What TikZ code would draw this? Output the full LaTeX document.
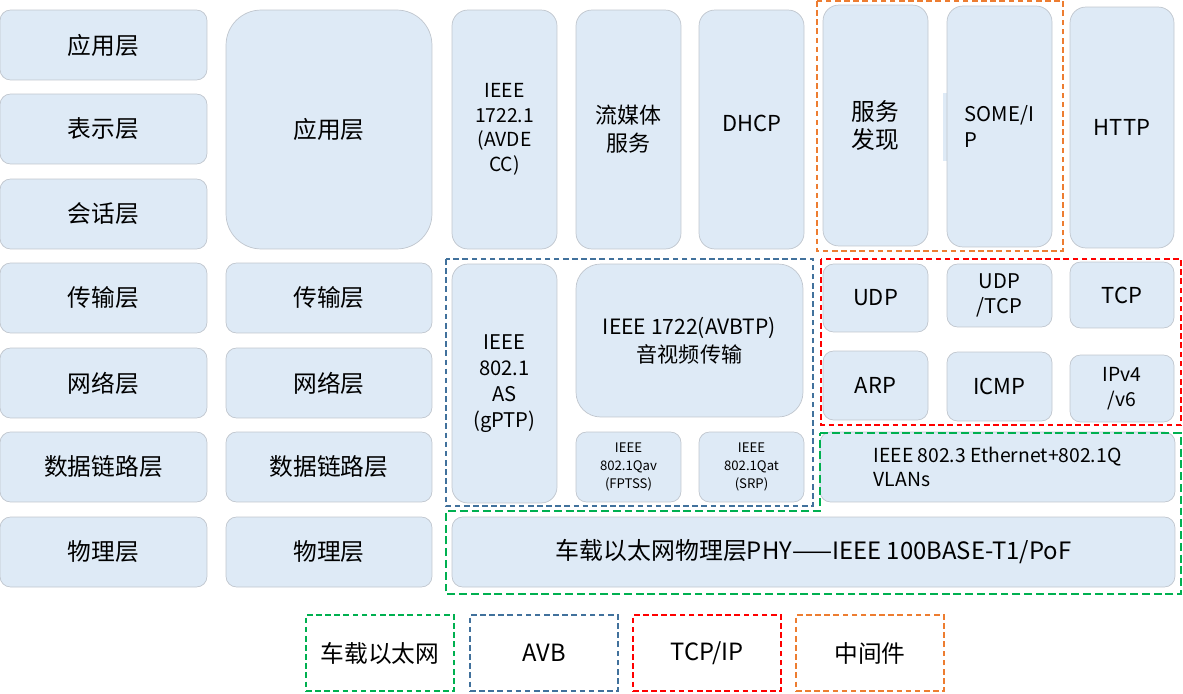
\documentclass[tikz,border=0pt]{standalone}
\usepackage{fontspec}
\setmainfont{Noto Sans CJK SC}
\definecolor{boxblue}{RGB}{222,234,246}
\definecolor{boxline}{RGB}{192,198,206}
\definecolor{avbblue}{RGB}{65,113,156}
\definecolor{ethgreen}{RGB}{0,176,80}
\definecolor{tcpred}{RGB}{255,0,0}
\definecolor{midorange}{RGB}{237,125,49}
\tikzset{
  layer/.style={draw=boxline, fill=boxblue, rounded corners=6pt, align=center, inner sep=0pt,
    minimum width=4.14cm, minimum height=1.4cm, font=\fontsize{13.5}{17}\selectfont},
  proto/.style={layer, minimum width=2.1cm, rounded corners=9pt, font=\fontsize{12.5}{16}\selectfont},
  smallproto/.style={proto, rounded corners=6pt, font=\fontsize{7.5}{10}\selectfont},
  frame/.style={draw=#1, line width=1.1pt, dash pattern=on 3.2pt off 2pt},
  legendbox/.style={frame=#1, minimum width=2.96cm, minimum height=1.52cm, font=\fontsize{13.5}{16}\selectfont},
}
\begin{document}
\begin{tikzpicture}[x=0.02cm, y=-0.02cm]
\useasboundingbox (0,0) rectangle (1183,693);
% OSI seven layers
\node[layer] (osi7) at (103.5,45) {应用层};
\node[layer] (osi6) at (103.5,129) {表示层};
\node[layer] (osi5) at (103.5,214) {会话层};
\node[layer] (osi4) at (103.5,298) {传输层};
\node[layer] (osi3) at (103.5,383) {网络层};
\node[layer] (osi2) at (103.5,467) {数据链路层};
\node[layer] (osi1) at (103.5,552) {物理层};
% TCP/IP model
\node[layer, minimum width=4.12cm, minimum height=4.78cm, rounded corners=20pt] (tcp7) at (329,129.5) {应用层};
\node[layer, minimum width=4.12cm] (tcp4) at (329,298) {传输层};
\node[layer, minimum width=4.12cm] (tcp3) at (329,383) {网络层};
\node[layer, minimum width=4.12cm] (tcp2) at (329,467) {数据链路层};
\node[layer, minimum width=4.12cm] (tcp1) at (329,552) {物理层};
% application protocols
\node[proto, minimum height=4.78cm, font=\fontsize{11}{14}\selectfont] (avdecc) at (504.5,129.5) {IEEE\\1722.1\\(AVDE\\CC)};
\node[proto, minimum height=4.78cm] (stream) at (628.5,129.5) {流媒体\\服务};
\node[proto, minimum height=4.78cm] (dhcp) at (751.5,129.5) {\raisebox{0.24cm}{DHCP}};
\node[proto, minimum height=4.82cm, font=\fontsize{13.5}{16}\selectfont] (sd) at (875.5,125.5) {服务\\发现};
\fill[boxblue] (943,93) rectangle (949,161);
\node[proto, minimum height=4.82cm, align=left, font=\fontsize{11.5}{15}\selectfont] (someip) at (999.5,126.5) {SOME/I\\P};
\node[proto, minimum width=2.08cm, minimum height=4.82cm] (http) at (1122,127.5) {HTTP};
% AVB
\node[proto, minimum height=4.78cm, font=\fontsize{11.5}{14.7}\selectfont] (gptp) at (504.5,383.5) {IEEE\\802.1\\AS\\(gPTP)};
\node[proto, minimum width=4.54cm, minimum height=3.06cm, rounded corners=14pt, font=\fontsize{12}{16}\selectfont] (avbtp) at (689.5,340.5) {IEEE 1722(AVBTP)\\音视频传输};
\node[smallproto, minimum height=1.4cm] (qav) at (628.5,467) {IEEE\\802.1Qav\\(FPTSS)};
\node[smallproto, minimum height=1.4cm] (qat) at (751.5,467) {IEEE\\802.1Qat\\(SRP)};
% TCP/IP
\node[proto, minimum height=1.36cm, rounded corners=6pt] (udp) at (875.5,298) {UDP};
\node[proto, minimum height=1.26cm, rounded corners=6pt, font=\fontsize{11.5}{14.5}\selectfont] (udptcp) at (999.5,295.5) {UDP\\/TCP};
\node[proto, minimum width=2.08cm, minimum height=1.32cm, rounded corners=6pt] (tcp) at (1122,295) {TCP};
\node[proto, minimum height=1.38cm, rounded corners=6pt] (arp) at (875.5,385.5) {ARP};
\node[proto, minimum height=1.38cm, rounded corners=6pt] (icmp) at (999.5,386.5) {ICMP};
\node[proto, minimum width=2.08cm, minimum height=1.34cm, rounded corners=6pt, font=\fontsize{11}{14.5}\selectfont] (ip) at (1122,388.5) {IPv4\\/v6};
% Ethernet
\node[layer, minimum width=7.1cm, align=left, font=\fontsize{11}{14}\selectfont] (eth) at (997.5,467) {IEEE 802.3 Ethernet+802.1Q\\VLANs};
\node[layer, minimum width=14.46cm, font=\fontsize{13.6}{16}\selectfont] (phy) at (813.5,552) {车载以太网物理层PHY——IEEE 100BASE-T1/PoF};
% group frames
\draw[frame=midorange] (817,1) rectangle (1063,251);
\draw[frame=avbblue] (446,259) rectangle (813,506);
\draw[frame=tcpred] (821,259) rectangle (1181,425);
\draw[frame=ethgreen, dash pattern=on 4.5pt off 2.2pt] (820,433) -- (1181,433) -- (1181,594) -- (446,594) -- (446,511) -- (820,511) -- cycle;
% legend
\node[legendbox=ethgreen] (leg1) at (380,653) {车载以太网};
\node[legendbox=avbblue] (leg2) at (544,653) {AVB};
\node[legendbox=tcpred] (leg3) at (707,653) {TCP/IP};
\node[legendbox=midorange] (leg4) at (870,653) {中间件};
\end{tikzpicture}
\end{document}
